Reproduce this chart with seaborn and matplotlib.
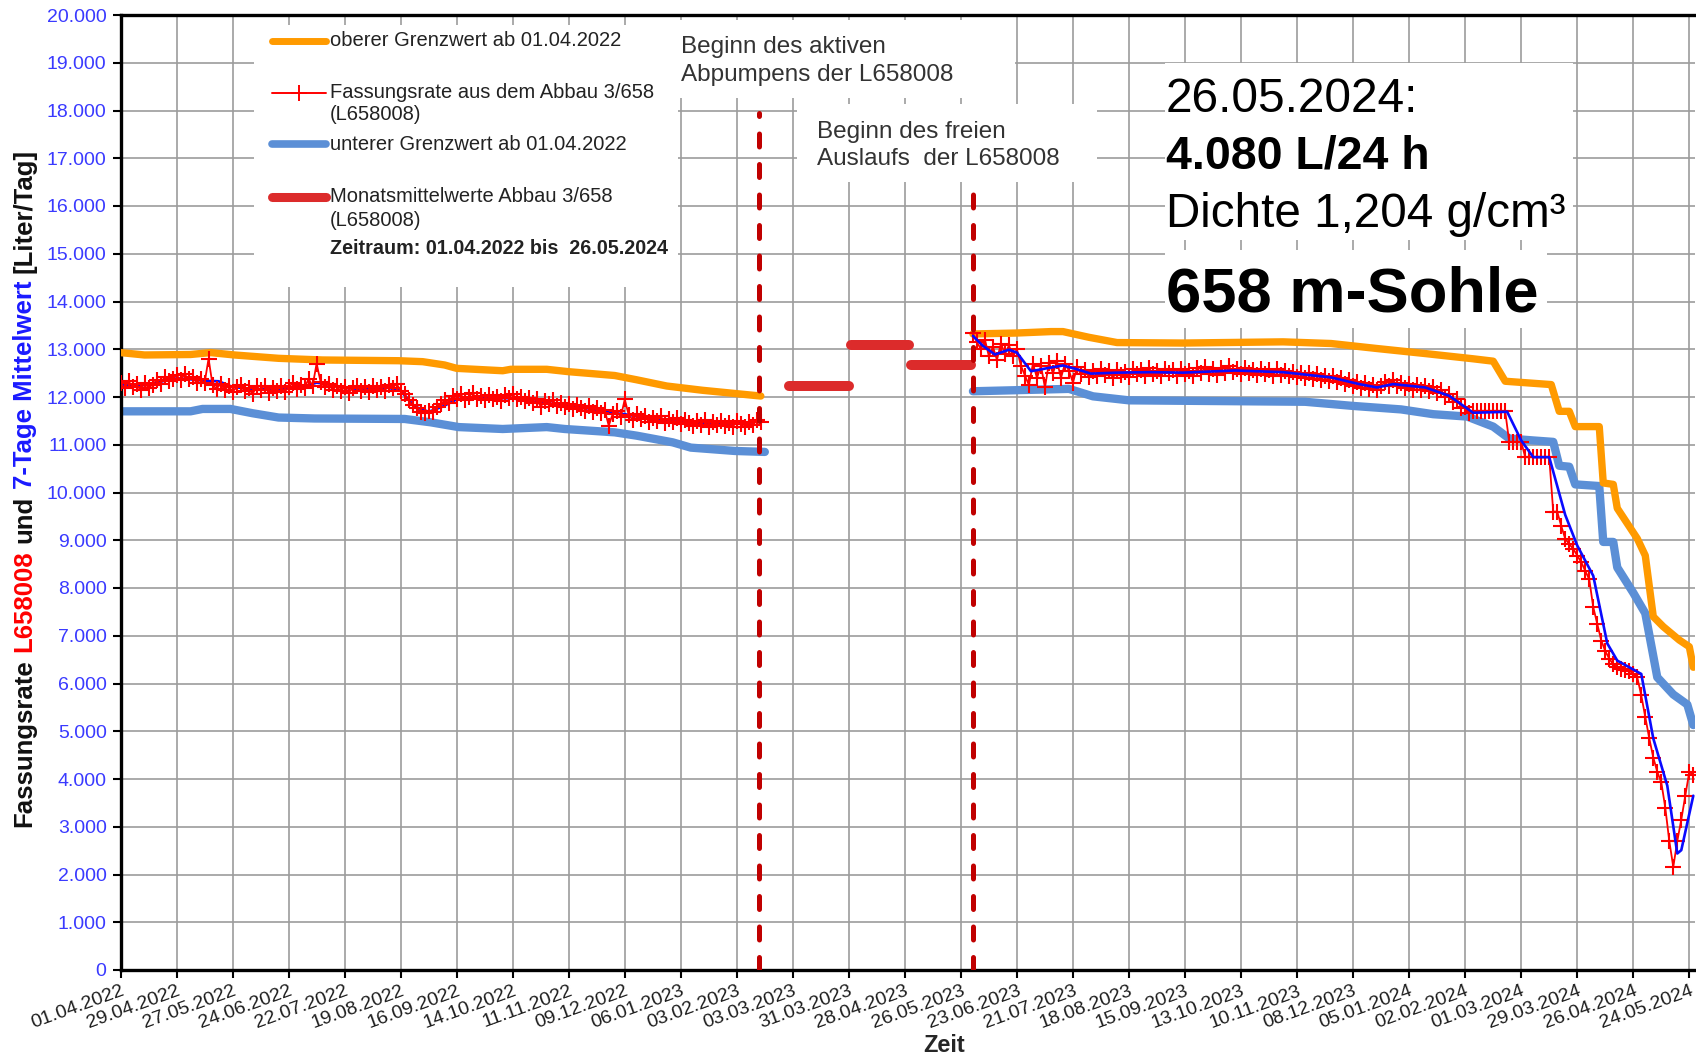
import pandas as pd
import matplotlib.pyplot as plt
from matplotlib.lines import Line2D
from matplotlib.patches import Rectangle
from matplotlib.ticker import FuncFormatter, MultipleLocator
import seaborn as sns

W, H = 1696, 1059

# upper limit (orange), two periods
upper1_dates = ['2022-04-01', '2022-04-13', '2022-05-06', '2022-05-16', '2022-05-28', '2022-06-19',
                '2022-07-11', '2022-08-18', '2022-08-30', '2022-09-10', '2022-09-16', '2022-10-09',
                '2022-10-13', '2022-10-31', '2022-11-11', '2022-12-04', '2022-12-15', '2022-12-30',
                '2023-01-17', '2023-02-15']
upper1_vals = [12930, 12880, 12890, 12930, 12880, 12810, 12775, 12760, 12740, 12670, 12600, 12550,
               12580, 12580, 12530, 12450, 12360, 12230, 12140, 12020]
upper2_dates = ['2023-06-01', '2023-06-23', '2023-07-10', '2023-07-16', '2023-07-29', '2023-08-12',
                '2023-09-14', '2023-11-03', '2023-11-27', '2023-12-20', '2024-01-13', '2024-02-06',
                '2024-02-16', '2024-02-22', '2024-03-16', '2024-03-20', '2024-03-25', '2024-03-28',
                '2024-04-09', '2024-04-11', '2024-04-16', '2024-04-18', '2024-04-28', '2024-05-02',
                '2024-05-06', '2024-05-11', '2024-05-19', '2024-05-24', '2024-05-26']
upper2_vals = [13320, 13340, 13370, 13370, 13250, 13140, 13130, 13155, 13120, 13015, 12910, 12800,
               12750, 12330, 12260, 11700, 11700, 11380, 11380, 10200, 10170, 9670, 9035, 8680,
               7400, 7190, 6910, 6770, 6340]

# lower limit (light blue)
lower1_dates = ['2022-04-01', '2022-05-06', '2022-05-12', '2022-05-26', '2022-06-06', '2022-06-19',
                '2022-07-07', '2022-08-21', '2022-09-03', '2022-09-17', '2022-10-09', '2022-10-31',
                '2022-11-09', '2022-12-04', '2022-12-15', '2023-01-02', '2023-01-11', '2023-02-02',
                '2023-02-17']
lower1_vals = [11700, 11700, 11750, 11750, 11660, 11570, 11550, 11540, 11470, 11370, 11330, 11370,
               11330, 11260, 11190, 11050, 10940, 10870, 10850]
lower2_dates = ['2023-06-01', '2023-07-19', '2023-07-31', '2023-08-18', '2023-11-14', '2023-12-08',
                '2024-01-01', '2024-01-17', '2024-02-03', '2024-02-16', '2024-02-24', '2024-03-07',
                '2024-03-17', '2024-03-20', '2024-03-25', '2024-03-28', '2024-04-09', '2024-04-11',
                '2024-04-16', '2024-04-18', '2024-04-26', '2024-05-02', '2024-05-08', '2024-05-16',
                '2024-05-23', '2024-05-26']
lower2_vals = [12120, 12170, 12014, 11930, 11900, 11813, 11740, 11640, 11590, 11380, 11130, 11090,
               11060, 10560, 10540, 10170, 10135, 8965, 8965, 8430, 7900, 7470, 6130, 5770,
               5560, 5130]

# Fassungsrate L658008, one value every 2 days
rate1_start = '2022-04-01'
rate1_vals = [12300, 12180, 12330, 12210, 12270, 12140, 12300, 12190, 12260, 12350,
              12280, 12420, 12330, 12380, 12460, 12350, 12480, 12370, 12420, 12300,
              12380, 12290, 12800, 12260, 12170, 12280, 12150, 12230, 12110, 12200,
              12250, 12120, 12180, 12060, 12220, 12150, 12240, 12090, 12180, 12130,
              12230, 12110, 12200, 12290, 12160, 12250, 12190, 12380, 12230, 12700,
              12320, 12200, 12280, 12150, 12240, 12120, 12210, 12090, 12180, 12240,
              12130, 12200, 12110, 12230, 12150, 12210, 12120, 12260, 12190, 12280,
              12120, 12060, 11930, 11830, 11760, 11690, 11660, 11710, 11680, 11790,
              11850, 11930, 11880, 12020, 11950, 12060, 11930, 12010, 12080, 11960,
              12030, 11930, 12050, 11960, 12010, 11920, 12040, 11980, 12060, 11950,
              11990, 11910, 11970, 11870, 11950, 11800, 11920, 11850, 11940, 11820,
              11880, 11790, 11860, 11740, 11830, 11760, 11700, 11820, 11680, 11770,
              11660, 11720, 11400, 11650, 11700, 11580, 11950, 11620, 11520, 11640,
              11530, 11610, 11480, 11570, 11500, 11600, 11450, 11540, 11470, 11560,
              11430, 11520, 11460, 11390, 11500, 11420, 11510, 11380, 11470, 11420,
              11500, 11400, 11460, 11380, 11490, 11430, 11370, 11470, 11410, 11520,
              11470]
rate2_start = '2023-06-01'
rate2_vals = [13330, 13150, 13000, 13200, 12850, 13050, 12780, 13120, 12900, 13080,
              12850, 13000, 12650, 12450, 12250, 12700, 12400, 12650, 12200, 12720,
              12500, 12750, 12400, 12700, 12550, 12300, 12620, 12480, 12560, 12420,
              12550, 12440, 12580, 12460, 12540, 12400, 12570, 12470, 12530, 12420,
              12580, 12480, 12560, 12440, 12600, 12490, 12550, 12430, 12580, 12500,
              12560, 12450, 12590, 12480, 12540, 12430, 12600, 12510, 12620, 12490,
              12580, 12470, 12610, 12500, 12640, 12520, 12590, 12480, 12600, 12510,
              12570, 12460, 12590, 12480, 12560, 12450, 12580, 12470, 12540, 12440,
              12530, 12420, 12510, 12400, 12500, 12380, 12480, 12360, 12450, 12340,
              12440, 12320, 12400, 12270, 12350, 12230, 12320, 12190, 12290, 12170,
              12260, 12150, 12240, 12310, 12220, 12350, 12230, 12300, 12180, 12270,
              12150, 12250, 12140, 12230, 12120, 12200, 12080, 12150, 12000, 12060,
              11900, 11950, 11780, 11800, 11660, 11700, 11700, 11700, 11700, 11700,
              11700, 11700, 11700, 11700, 11060, 11060, 11060, 11060, 10740, 10740,
              10740, 10740, 10740, 10740, 10740, 9600, 9600, 9300, 9030, 8920,
              8820, 8680, 8540, 8360, 8180, 7600, 7250, 6900, 6680, 6520,
              6400, 6340, 6310, 6290, 6270, 6200, 6130, 5750, 5300, 4850,
              4450, 4150, 3930, 3400, 2700, 2160, 2700, 3150, 3650, 4150,
              4080]

# 7-Tage Mittelwert
mean1_start = '2022-04-01'
mean1_vals = [12250, 12240, 12260, 12330, 12390, 12370, 12340, 12330, 12210, 12180,
              12160, 12170, 12180, 12210, 12300, 12260, 12190, 12170, 12180, 12200,
              12130, 11800, 11690, 11800, 11950, 11990, 11990, 11980, 11970, 11930,
              11880, 11850, 11820, 11780, 11730, 11670, 11640, 11590, 11540, 11500,
              11480, 11460, 11450, 11440, 11450, 11460]
mean2_dates = ['2023-06-01', '2023-06-06', '2023-06-12', '2023-06-19', '2023-06-23', '2023-06-30',
               '2023-07-09', '2023-07-16', '2023-07-23', '2023-07-30', '2023-08-12', '2023-08-29',
               '2023-09-14', '2023-10-10', '2023-11-03', '2023-11-27', '2023-12-11', '2023-12-20',
               '2023-12-28', '2024-01-13', '2024-01-25', '2024-02-06', '2024-02-23', '2024-03-01',
               '2024-03-07', '2024-03-15', '2024-03-23', '2024-03-29', '2024-04-06', '2024-04-13',
               '2024-04-18', '2024-04-30', '2024-05-06', '2024-05-13', '2024-05-18', '2024-05-20',
               '2024-05-26']
mean2_vals = [13280, 13070, 12890, 12990, 12930, 12540, 12610, 12660, 12580, 12490, 12510, 12520,
              12510, 12555, 12520, 12410, 12270, 12200, 12270, 12200, 12025, 11670, 11690, 11090,
              10740, 10740, 9530, 8890, 8255, 6840, 6480, 6200, 4850, 3860, 2440, 2510, 3650]

# Monatsmittelwerte
month_start = ['2023-03-01', '2023-04-01', '2023-05-01']
month_end = ['2023-03-31', '2023-04-30', '2023-05-31']
month_vals = [12220, 13090, 12670]

# Beginn aktives Abpumpen / freier Auslauf
event_dates = ['2023-02-14', '2023-06-01']
event_tops = [17950, 16500]

ORANGE = '#ff9a00'
LBLUE = '#5b8fd6'
RED = '#ff0000'
MRED = '#dc2b2b'
BLUE = '#0a0aff'


def px(x, y):
    return x / W, 1 - y / H


def series(dates, vals):
    return pd.DataFrame({'datum': pd.to_datetime(dates), 'wert': vals})


def stepped(start, vals, step):
    return pd.DataFrame({'datum': pd.date_range(start, periods=len(vals), freq=step), 'wert': vals})


sns.set_theme(style='white')
plt.rcParams['font.family'] = ['Liberation Sans', 'DejaVu Sans']

fig = plt.figure(figsize=(W / 100, H / 100), dpi=100)
ax = fig.add_axes([120.5 / W, 1 - 970 / H, 1574.8 / W, 955 / H])

for d, v in [(lower1_dates, lower1_vals), (lower2_dates, lower2_vals)]:
    sns.lineplot(data=series(d, v), x='datum', y='wert', ax=ax, color=LBLUE, lw=6,
                 solid_capstyle='round', legend=False, zorder=2)
for d, v in [(upper1_dates, upper1_vals), (upper2_dates, upper2_vals)]:
    sns.lineplot(data=series(d, v), x='datum', y='wert', ax=ax, color=ORANGE, lw=5.3,
                 solid_capstyle='round', legend=False, zorder=3)

ax.hlines(month_vals, pd.to_datetime(month_start), pd.to_datetime(month_end), colors=MRED,
          lw=7.2, capstyle='round', zorder=3)

sns.lineplot(data=stepped(mean1_start, mean1_vals, '7D'), x='datum', y='wert', ax=ax,
             color=BLUE, lw=1.9, legend=False, zorder=4)

red_kw = dict(color=RED, lw=1.3, marker='+', markersize=11, markeredgewidth=1.5,
              markeredgecolor=RED, legend=False, zorder=5)
sns.lineplot(data=stepped(rate1_start, rate1_vals, '2D'), x='datum', y='wert', ax=ax, **red_kw)
sns.lineplot(data=stepped(rate2_start, rate2_vals, '2D'), x='datum', y='wert', ax=ax, **red_kw)

sns.lineplot(data=series(mean2_dates, mean2_vals), x='datum', y='wert', ax=ax,
             color=BLUE, lw=1.9, legend=False, zorder=6)

ax.vlines(pd.to_datetime(event_dates), 0, event_tops, colors='#c00000', lw=3.6,
          linestyles=[(0, (2.6, 3.5))], capstyle='round', zorder=7)

# axes
ax.set_xlim(pd.Timestamp('2022-04-01'), pd.Timestamp('2024-05-27'))
ax.set_ylim(0, 20000)
ax.set_xlabel('')
ax.set_ylabel('')
ax.yaxis.set_major_locator(MultipleLocator(1000))
ax.yaxis.set_major_formatter(FuncFormatter(lambda v, p: f'{int(v):,}'.replace(',', '.')))
ticks = pd.date_range('2022-04-01', '2024-05-24', freq='28D')
ax.set_xticks(ticks)
ax.set_xticklabels([t.strftime('%d.%m.%Y') for t in ticks], rotation=20, ha='right',
                   va='top', rotation_mode='anchor')
ax.grid(True, color='#9c9c9c', lw=1.2)
ax.set_axisbelow(True)
for s in ['left', 'bottom', 'top']:
    ax.spines[s].set_linewidth(2.4)
    ax.spines[s].set_color('black')
ax.spines['right'].set_visible(False)
ax.tick_params(axis='both', direction='out', length=6, width=1.5, color='black',
               bottom=True, left=True)
ax.tick_params(axis='y', labelsize=14, labelcolor='#3a3aff', pad=4)
ax.tick_params(axis='x', labelsize=14, labelcolor='#1e1e1e', pad=3)

fig.text(*px(944, 1046), 'Zeit', fontsize=17, fontweight='bold', ha='center', va='center')

# white boxes behind the texts
for x0, y0, x1, y1 in [(254, 25, 678, 287), (675, 20, 1015, 98), (797, 104, 1097, 182),
                       (1165, 63, 1573, 240), (1165, 250, 1547, 328)]:
    fig.add_artist(Rectangle(px(x0, y1), (x1 - x0) / W, (y1 - y0) / H,
                             transform=fig.transFigure, fc='white', ec='none', zorder=1))

# legend
def handle(y, **kw):
    fig.add_artist(Line2D([272 / W, 299 / W, 326 / W], [1 - y / H] * 3,
                          transform=fig.transFigure, zorder=2, **kw))


handle(40.7, color=ORANGE, lw=5, solid_capstyle='round')
handle(92.7, color=RED, lw=1.4, marker='+', markersize=11, markeredgewidth=1.4, markevery=[1])
handle(144.3, color=LBLUE, lw=5.5, solid_capstyle='round')
handle(196.7, color=MRED, lw=6.5, solid_capstyle='round')

leg = dict(fontsize=14.5, color='#222222', ha='left', va='center')
for y, s in [(40, 'oberer Grenzwert ab 01.04.2022'), (92.5, 'Fassungsrate aus dem Abbau 3/658'),
             (115, '(L658008)'), (144.5, 'unterer Grenzwert ab 01.04.2022'),
             (196.5, 'Monatsmittelwerte Abbau 3/658'), (220, '(L658008)')]:
    fig.text(*px(329.5, y), s, **leg)
fig.text(*px(329.5, 248), 'Zeitraum: 01.04.2022 bis  26.05.2024', fontsize=14.2, fontweight='bold',
         color='#222222', ha='left', va='center')

# event notes
note = dict(fontsize=17.5, color='#333333', ha='left', va='center')
fig.text(*px(681, 46.7), 'Beginn des aktiven', **note)
fig.text(*px(681, 75), 'Abpumpens der L658008', **note)
fig.text(*px(817, 131.7), 'Beginn des freien', **note)
fig.text(*px(817, 159.3), 'Auslaufs  der L658008', **note)

# big info text
big = dict(color='black', ha='left', va='baseline')
fig.text(*px(1166, 111.7), '26.05.2024:', fontsize=34.5, **big)
fig.text(*px(1166, 168.3), '4.080 L/24 h', fontsize=33.5, fontweight='bold', **big)
fig.text(*px(1166, 226.7), 'Dichte 1,204 g/cm³', fontsize=34.3, **big)
fig.text(*px(1166, 311.7), '658 m-Sohle', fontsize=45.5, fontweight='bold', **big)

# multicoloured y label, built piece by piece from bottom to top
pieces = [('Fassungsrate ', '#111111'), ('L658008', RED), (' und ', '#111111'),
          ('7-Tage Mittelwert', '#1a1aff'), (' [Liter/Tag]', '#111111')]
renderer = fig.canvas.get_renderer()
lab = dict(fontsize=18.5, fontweight='bold')


def text_len(s):
    t = fig.text(0, 0, s + '|', **lab)
    w = t.get_window_extent(renderer).width
    t.remove()
    return w


bar = text_len('')
prefix = ''
for s, c in pieces:
    lead = s[:len(s) - len(s.lstrip())]
    off = text_len(prefix + lead) - bar if (prefix + lead) else 0
    fig.text(*px(31.7, 827 - off), s.strip(), color=c, rotation=90, rotation_mode='anchor',
             ha='left', va='baseline', **lab)
    prefix += s

fig.savefig('out.png', dpi=100)
